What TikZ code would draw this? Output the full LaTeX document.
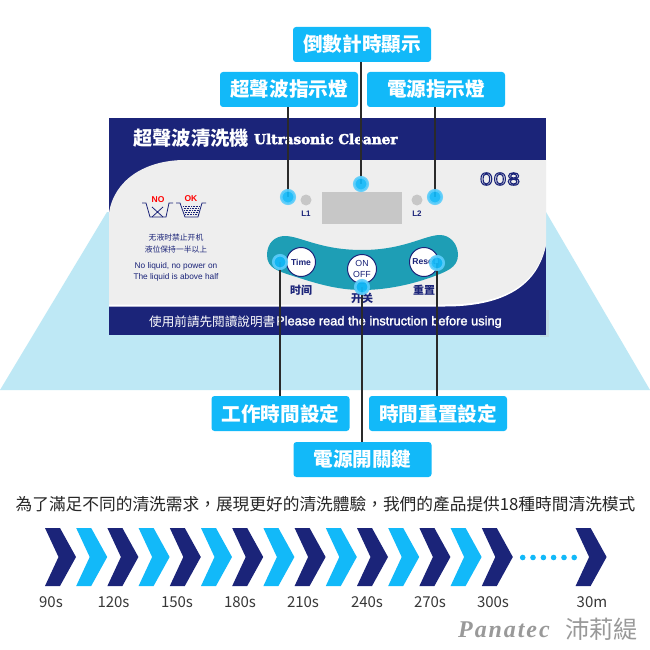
\documentclass[tikz,border=0pt]{standalone}
\usepackage{fontspec}
\setmainfont{Liberation Sans}
\newfontfamily\tcfont{Noto Sans CJK TC}
\newfontfamily\scfont{Noto Sans CJK SC}
\newfontfamily\wideface{DejaVu Serif}
\newfontfamily\panafont[LetterSpace=8]{Liberation Serif}
\newfontfamily\digitfont[FakeStretch=1.3]{DejaVu Sans}
\definecolor{navy}{HTML}{1B2479}
\definecolor{cyanbox}{HTML}{12B9F9}
\definecolor{halo}{HTML}{5CCDFB}
\definecolor{paleblue}{HTML}{BEE8F5}
\definecolor{panelgrey}{HTML}{EEEEEE}
\definecolor{teal}{HTML}{1E9EB5}
\definecolor{inkdark}{HTML}{2A2A2A}
\definecolor{wmgrey}{HTML}{999999}
\tikzset{
  labelbox/.style={fill=cyanbox,rounded corners=3pt,minimum width=138pt,minimum height=35pt,inner sep=0pt,text=white,font=\tcfont\bfseries\fontsize{19.6}{21}\selectfont},
  wire/.style={draw=inkdark,line width=1.4pt},
  hotdot/.style={circle,fill=cyanbox,draw=halo,draw opacity=.9,line width=2.6pt,minimum size=13.5pt,inner sep=0pt,fill opacity=.92},
  pushbtn/.style={circle,fill=white,draw=navy,line width=1pt,minimum size=29pt,inner sep=0pt,text=navy},
  lamp/.style={circle,fill=black!22,minimum size=11pt,inner sep=0pt},
  tiny/.style={text=navy,inner sep=0pt},
  stime/.style={text=black!78,inner sep=0pt,font=\tcfont\fontsize{15}{17}\selectfont},
  tubline/.style={draw=navy,line width=.8pt,line join=miter}
}
\newcommand{\chev}[2]{\fill[#2] (#1,528) -- ++(15,0) -- ++(16,29) -- ++(-16,29) -- ++(-15,0) -- ++(13.5,-29) -- cycle;}
\begin{document}
\begin{tikzpicture}[x=1pt,y=-1pt]
\useasboundingbox (0,0) rectangle (650,650);
\fill[white] (0,0) rectangle (650,650);
% pale trapezoid
\fill[paleblue] (0,390) -- (107,212) -- (546,212) -- (650,390) -- cycle;
% panel
\fill[black!25,opacity=.3] (540,310) rectangle (549,337);
\fill[navy] (109,118) rectangle (546,335);
\fill[white] (109,306.5) -- (109,290) -- (546,245) .. controls (538,285) and (505,306.5) .. (445,306.5) -- cycle;
\fill[panelgrey] (109,304.5) -- (109,213) .. controls (114,180) and (145,160) .. (185,160)
  -- (546,160) -- (546,245) .. controls (536,284) and (505,304.5) .. (445,304.5) -- cycle;
% header
\node[inner sep=0pt,anchor=west,text=white,font=\tcfont\bfseries\fontsize{19.3}{21}\selectfont] (title) at (133,138) {超聲波清洗機};
\node[inner sep=0pt,anchor=west,text=white,font=\wideface\bfseries\fontsize{13.6}{15}\selectfont] (titleen) at (254,139) {\special{pdf:code 2 Tr 0.4 w}Ultrasonic Cleaner\special{pdf:code 0 Tr}};
\node[inner sep=0pt,text=navy,font=\digitfont\fontsize{16.5}{18}\selectfont] (model) at (500,179) {\special{pdf:code 1 Tr 1.1 w}008\special{pdf:code 0 Tr}};
% footer
\node[inner sep=0pt,anchor=west,text=white,font=\tcfont\fontsize{12.6}{14}\selectfont] (foot) at (149,322) {使用前請先閱讀說明書};
\node[inner sep=0pt,anchor=west,text=white,font=\fontsize{12.8}{14}\selectfont] (footen) at (276,322) {\special{pdf:code 2 Tr 0.25 w}Please read the instruction before using\special{pdf:code 0 Tr}};
% display and lamps
\fill[black!22] (322,192) rectangle (402,224);
\node[lamp] (l1) at (306,200) {};
\node[lamp] (l2) at (417,200) {};
\node[tiny,font=\bfseries\fontsize{8}{9}\selectfont] (l1t) at (306,214) {L1};
\node[tiny,font=\bfseries\fontsize{8}{9}\selectfont] (l2t) at (417,214) {L2};
% teal bean
\fill[teal] (267,255) .. controls (267,243) and (275,236) .. (285,236)
  .. controls (300,236) and (320,250) .. (362,250)
  .. controls (404,250) and (425,235) .. (440,235)
  .. controls (450,235) and (458,244) .. (458,255)
  .. controls (458,268) and (445,272) .. (432,277)
  .. controls (410,285) and (385,290) .. (362,290)
  .. controls (335,290) and (312,282) .. (290,275)
  .. controls (278,271) and (267,268) .. (267,255) -- cycle;
\node[pushbtn,font=\bfseries\fontsize{8.6}{10}\selectfont] (btime) at (301,262) {Time};
\node[pushbtn,font=\fontsize{8.8}{10.5}\selectfont,align=center] (bon) at (362,269) {ON\\OFF};
\node[pushbtn,font=\bfseries\fontsize{8.6}{10}\selectfont] (breset) at (424,262) {Reset};
\node[tiny,font=\scfont\bfseries\fontsize{11}{12}\selectfont] (t1) at (301,290) {时间};
\node[tiny,font=\scfont\bfseries\fontsize{11}{12}\selectfont] (t2) at (362,298) {开关};
\node[tiny,font=\scfont\bfseries\fontsize{11}{12}\selectfont] (t3) at (424,290) {重置};
% icons
\draw[tubline] (142,203) -- (146,203) -- (150,217) -- (166,217) -- (169,203) -- (173,203);
\draw[tubline] (152,207) -- (163,217) (163,207) -- (152,217);
\draw[tubline] (176,203) -- (180,203) -- (185,217) -- (198,217) -- (202,203) -- (206,203);
\foreach \yy/\xa/\xb in {206/183/200,208/183.5/199.5,210/184/199,212/184.5/198.5,214/185/198}
  \draw[navy,line width=.8pt,dash pattern=on 1pt off .6pt] (\xa,\yy) -- (\xb,\yy);
\node[inner sep=0pt,text=red,font=\bfseries\fontsize{8.5}{10}\selectfont] (nok) at (158,200) {NO};
\node[inner sep=0pt,text=red,font=\bfseries\fontsize{8.5}{10}\selectfont] (okk) at (191,199) {OK};
\node[tiny,font=\scfont\fontsize{7.8}{9}\selectfont] (w1) at (176,238) {无液时禁止开机};
\node[tiny,font=\scfont\fontsize{7.8}{9}\selectfont] (w2) at (176,250) {液位保持一半以上};
\node[tiny,font=\fontsize{8.3}{9}\selectfont] (w3) at (176,266) {No liquid, no power on};
\node[tiny,font=\fontsize{8.3}{9}\selectfont] (w4) at (176,277) {The liquid is above half};
% label boxes
\node[labelbox] (lcount) at (362,44.5) {倒數計時顯示};
\node[labelbox] (lultra) at (289,89.5) {超聲波指示燈};
\node[labelbox] (lpower) at (436,89.5) {電源指示燈};
\node[labelbox] (lwork) at (280.5,413.5) {工作時間設定};
\node[labelbox] (lreset) at (438,413.5) {時間重置設定};
\node[labelbox] (lkey) at (362.5,459.5) {電源開關鍵};
% hot dots
\coordinate (cu) at (288,197);
\coordinate (cc) at (361,184);
\coordinate (cp) at (435,197);
\coordinate (cw) at (280,262);
\coordinate (co) at (362,287);
\coordinate (cr) at (437,263);
\draw[wire] (lultra.south -| cu) -- (cu);
\draw[wire] (lcount.south -| cc) -- (cc);
\draw[wire] (lpower.south -| cp) -- (cp);
\draw[wire] (lwork.north -| cw) -- (cw);
\draw[wire] (lkey.north -| co) -- (co);
\draw[wire] (lreset.north -| cr) -- (cr);
\node[hotdot] (du) at (cu) {};
\node[hotdot] (dc) at (cc) {};
\node[hotdot] (dp) at (cp) {};
\node[hotdot] (dw) at (cw) {};
\node[hotdot] (do) at (co) {};
\node[hotdot] (dr) at (cr) {};
% sentence
\node[inner sep=0pt,text=black!85,font=\tcfont\fontsize{16.7}{18}\selectfont] (sent) at (325.5,504) {為了滿足不同的清洗需求，展現更好的清洗體驗，我們的產品提供18種時間清洗模式};
% chevrons
\foreach \k in {0,2,...,14}{\pgfmathsetmacro\xx{45+31.2*\k}\chev{\xx}{navy}}
\foreach \k in {1,3,...,13}{\pgfmathsetmacro\xx{45+31.2*\k}\chev{\xx}{cyanbox}}
\chev{575.6}{navy}
\foreach \xx in {522.7,533,543.4,553.6,564,574.2}
  \fill[cyanbox] (\xx,557.5) circle (2.8pt);
% times
\node[stime] (s90) at (51,602) {90s};
\node[stime] (s120) at (113.5,602) {120s};
\node[stime] (s150) at (177,602) {150s};
\node[stime] (s180) at (240,602) {180s};
\node[stime] (s210) at (303,602) {210s};
\node[stime] (s240) at (367,602) {240s};
\node[stime] (s270) at (430,602) {270s};
\node[stime] (s300) at (493,602) {300s};
\node[stime] (s30m) at (592,602) {30m};
% brand
\node[inner sep=0pt,anchor=west,text=wmgrey,font=\panafont\bfseries\itshape\fontsize{24}{26}\selectfont] (pana) at (458,630) {Panatec};
\node[inner sep=0pt,anchor=west,text=wmgrey,font=\tcfont\fontsize{24.3}{26}\selectfont] (panz) at (565,629) {沛莉緹};
\end{tikzpicture}
\end{document}
